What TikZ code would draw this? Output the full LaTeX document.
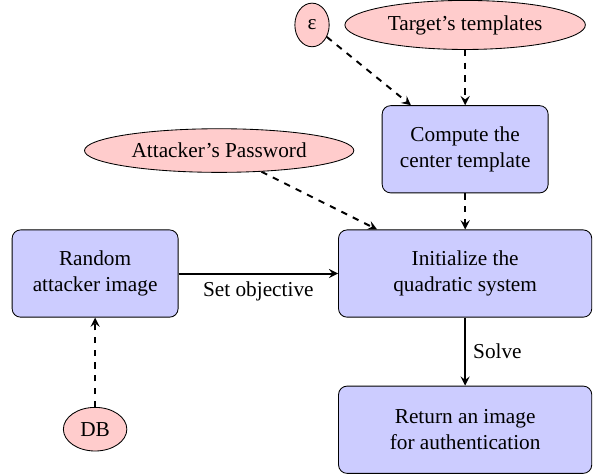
\documentclass[tikz,border=0pt]{standalone}
\usepackage{fontspec}
\setmainfont{LiberationSerif}[Extension=.ttf, UprightFont=*-Regular, BoldFont=*-Bold, ItalicFont=*-Italic]
\usetikzlibrary{shapes.geometric,positioning,arrows}

\begin{document}
\begin{tikzpicture}[node distance=2cm,>=stealth]
\tikzstyle{block}=[draw, rounded corners=4pt, fill=blue!20, align=center, minimum width=78pt, minimum height=41pt]
\tikzstyle{wide}=[minimum width=119pt]
\tikzstyle{input}=[draw, ellipse, fill=red!20, inner sep=3.6pt, minimum height=20.5pt]
\tikzstyle{every edge}=[draw, ->, line width=0.9pt]

\node[block, wide] (init) {Initialize the\\quadratic system};
\node[block, wide, below=32pt of init] (ret) {Return an image\\for authentication};
\node[block, left=75pt of init] (rand) {Random\\attacker image};
\node[block, above=17pt of init] (comp) {Compute the\\center template};
\node[input, above=26pt of comp] (tmpl) {Target's templates};
\node[input, left=7pt of tmpl] (eps) {ε};
\node[input] (pwd) at ([shift={(-115.6pt,57.8pt)}]init.center) {Attacker's Password};
\node[input, below=42pt of rand] (db) {DB};

\useasboundingbox ([shift={(-218.6pt,126.9pt)}]init.center) rectangle ([shift={(62.9pt,-94pt)}]init.center);

\draw (rand) edge node[below] {Set objective} (init);
\draw (init) edge node[right] {Solve} (ret);
\draw (eps) edge[dashed] (comp);
\draw (tmpl) edge[dashed] (comp);
\draw (comp) edge[dashed] (init);
\draw (pwd) edge[dashed] (init);
\draw (db) edge[dashed] (rand);
\end{tikzpicture}
\end{document}
